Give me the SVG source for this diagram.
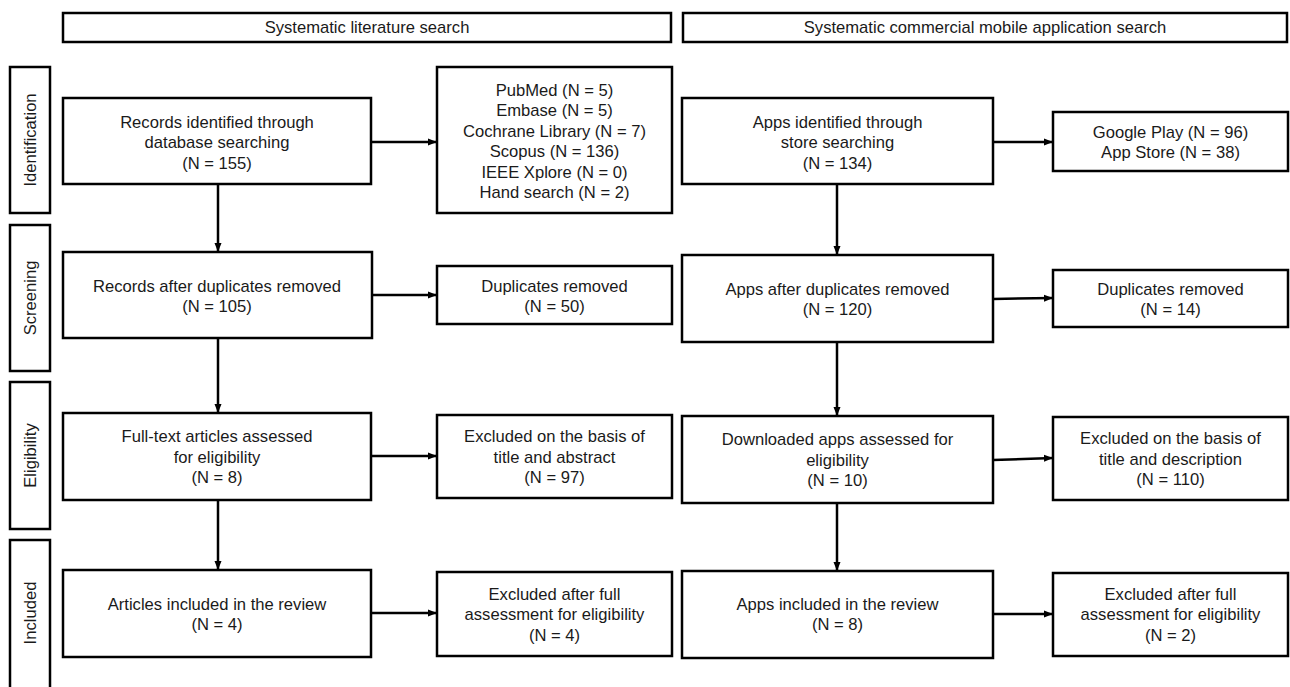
<svg xmlns="http://www.w3.org/2000/svg" width="1290" height="687" viewBox="0 0 1290 687">
<defs>
<style>
rect{fill:#fff;stroke:#000;stroke-width:2.5}
text{font-family:"Liberation Sans",Arial,sans-serif;font-size:16.6px;fill:#1a1a1a;text-anchor:middle}
.c line{stroke:#000;stroke-width:2.5;marker-end:url(#ah)}
</style>
<marker id="ah" markerUnits="userSpaceOnUse" markerWidth="9" markerHeight="8" refX="9" refY="4" orient="auto">
<path d="M0,0.5 L9,4 L0,7.5 z" fill="#000"/>
</marker>
</defs>
<rect width="1290" height="687" style="fill:#fff;stroke:none"/>

<g id="header-lit"><rect x="63" y="13" width="608" height="29"/><text x="367" y="33">Systematic literature search</text></g>
<g id="header-app"><rect x="683" y="13" width="604" height="29"/><text x="985" y="33">Systematic commercial mobile application search</text></g>

<g id="stage-identification"><rect x="10" y="67" width="40" height="146"/><text transform="translate(35.5,140) rotate(-90)">Identification</text></g>
<g id="stage-screening"><rect x="10" y="225" width="40" height="146"/><text transform="translate(35.5,298) rotate(-90)">Screening</text></g>
<g id="stage-eligibility"><rect x="10" y="382" width="40" height="147"/><text transform="translate(35.5,455.5) rotate(-90)">Eligibility</text></g>
<g id="stage-included"><rect x="10" y="540" width="40" height="160"/><text transform="translate(35.5,613) rotate(-90)">Included</text></g>

<g id="records-identified"><rect x="63" y="98" width="308" height="86"/>
<text x="217" y="127.5">Records identified through</text><text x="217" y="148">database searching</text><text x="217" y="168.5">(N = 155)</text></g>
<g id="databases"><rect x="437" y="67" width="235" height="146"/>
<text x="554.5" y="95.5">PubMed (N = 5)</text><text x="554.5" y="116">Embase (N = 5)</text><text x="554.5" y="136.5">Cochrane Library (N = 7)</text><text x="554.5" y="157">Scopus (N = 136)</text><text x="554.5" y="177.5">IEEE Xplore (N = 0)</text><text x="554.5" y="198">Hand search (N = 2)</text></g>
<g id="records-dedup"><rect x="63" y="252" width="309" height="86"/>
<text x="217" y="291.5">Records after duplicates removed</text><text x="217" y="312">(N = 105)</text></g>
<g id="lit-duplicates"><rect x="437" y="266" width="235" height="58"/>
<text x="554.5" y="291.5">Duplicates removed</text><text x="554.5" y="312">(N = 50)</text></g>
<g id="fulltext"><rect x="63" y="413" width="308" height="87"/>
<text x="217" y="442">Full-text articles assessed</text><text x="217" y="462.5">for eligibility</text><text x="217" y="483">(N = 8)</text></g>
<g id="lit-excluded-title"><rect x="437" y="415" width="235" height="83"/>
<text x="554.5" y="442">Excluded on the basis of</text><text x="554.5" y="462.5">title and abstract</text><text x="554.5" y="483">(N = 97)</text></g>
<g id="articles-included"><rect x="63" y="570" width="308" height="87"/>
<text x="217" y="609.5">Articles included in the review</text><text x="217" y="630">(N = 4)</text></g>
<g id="lit-excluded-full"><rect x="437" y="572" width="235" height="84"/>
<text x="554.5" y="599.5">Excluded after full</text><text x="554.5" y="620">assessment for eligibility</text><text x="554.5" y="640.5">(N = 4)</text></g>

<g id="apps-identified"><rect x="682" y="98" width="311" height="86"/>
<text x="837.5" y="127.5">Apps identified through</text><text x="837.5" y="148">store searching</text><text x="837.5" y="168.5">(N = 134)</text></g>
<g id="stores"><rect x="1053" y="112" width="235" height="59"/>
<text x="1170.5" y="137.5">Google Play (N = 96)</text><text x="1170.5" y="158">App Store (N = 38)</text></g>
<g id="apps-dedup"><rect x="682" y="255" width="311" height="87"/>
<text x="837.5" y="294.5">Apps after duplicates removed</text><text x="837.5" y="315">(N = 120)</text></g>
<g id="app-duplicates"><rect x="1053" y="270" width="235" height="57"/>
<text x="1170.5" y="294.5">Duplicates removed</text><text x="1170.5" y="315">(N = 14)</text></g>
<g id="downloaded"><rect x="682" y="416" width="311" height="87"/>
<text x="837.5" y="445">Downloaded apps assessed for</text><text x="837.5" y="465.5">eligibility</text><text x="837.5" y="486">(N = 10)</text></g>
<g id="app-excluded-title"><rect x="1053" y="417" width="235" height="83"/>
<text x="1170.5" y="444">Excluded on the basis of</text><text x="1170.5" y="464.5">title and description</text><text x="1170.5" y="485">(N = 110)</text></g>
<g id="apps-included"><rect x="682" y="571" width="311" height="87"/>
<text x="837.5" y="609.5">Apps included in the review</text><text x="837.5" y="630">(N = 8)</text></g>
<g id="app-excluded-full"><rect x="1053" y="573" width="235" height="83"/>
<text x="1170.5" y="599.5">Excluded after full</text><text x="1170.5" y="620">assessment for eligibility</text><text x="1170.5" y="640.5">(N = 2)</text></g>

<g id="connectors" class="c">
<line x1="371" y1="142" x2="437" y2="142"/>
<line x1="218" y1="184" x2="218" y2="252"/>
<line x1="372" y1="295" x2="437" y2="295"/>
<line x1="218" y1="338" x2="218" y2="413"/>
<line x1="371" y1="456" x2="437" y2="456"/>
<line x1="218" y1="500" x2="218" y2="570"/>
<line x1="371" y1="613" x2="437" y2="613"/>
<line x1="993" y1="142" x2="1053" y2="142"/>
<line x1="837" y1="184" x2="837" y2="255"/>
<line x1="993" y1="299" x2="1053" y2="298"/>
<line x1="837" y1="342" x2="837" y2="416"/>
<line x1="993" y1="460" x2="1053" y2="458"/>
<line x1="837" y1="503" x2="837" y2="571"/>
<line x1="993" y1="614" x2="1053" y2="614"/>
</g>
</svg>
